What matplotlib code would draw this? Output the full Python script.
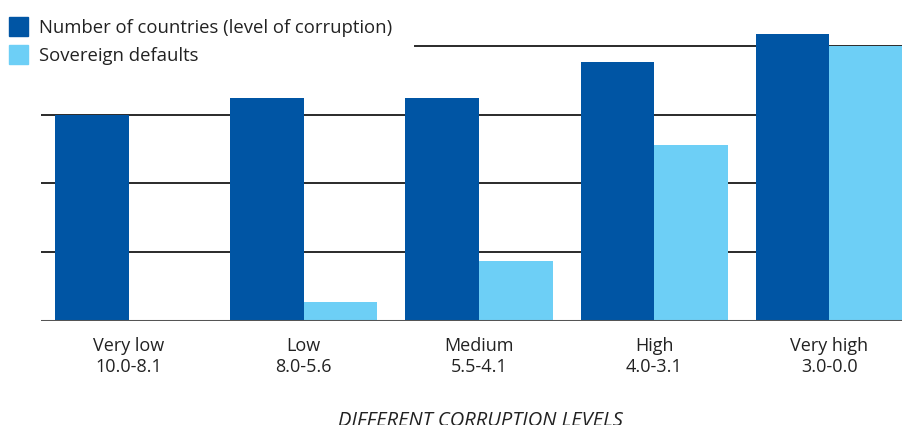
import numpy as np
import matplotlib.pyplot as plt
from matplotlib.patches import Patch

plt.rcParams['font.family'] = ['Open Sans', 'DejaVu Sans']

# data (gridlines taken as 10, 20, 30, 40)
levels = ["Very low\n10.0-8.1", "Low\n8.0-5.6", "Medium\n5.5-4.1",
          "High\n4.0-3.1", "Very high\n3.0-0.0"]
countries = [30, 32.4, 32.4, 37.6, 41.7]
defaults = [0, 2.7, 8.7, 25.5, 40]

dark = '#0055A4'
light = '#6DCFF6'

fig = plt.figure(figsize=(9.03, 4.25), dpi=100)
ax = fig.add_axes([41/903, 1-320.5/425, 1-41/903, 309/425])

x = np.arange(len(levels))
w = 0.42
ax.bar(x - w/2, countries, w, color=dark, zorder=3)
ax.bar(x + w/2, defaults, w, color=light, zorder=3)

# horizontal rules, the top one starts after the legend
for g in [10, 20, 30]:
    ax.axhline(g, color='#2a2a2a', lw=1.4, zorder=1)
ax.axhline(40, xmin=0.434, color='#2a2a2a', lw=1.4, zorder=1)
ax.axhline(0, color='#555555', lw=2.2, zorder=4)

ax.set_xlim(-0.5, 4.42)
ax.set_ylim(0, 45)
ax.set_yticks([])
ax.set_xticks(x)
ax.set_xticklabels(levels, fontsize=13, color='#222222', linespacing=1.2)
ax.tick_params(axis='x', length=0, pad=12)
for s in ax.spines.values():
    s.set_visible(False)

ax.set_xlabel("DIFFERENT CORRUPTION LEVELS", fontsize=14.5, style='italic',
              color='#222222')
ax.xaxis.set_label_coords(0.51, -0.293)

handles = [Patch(color=dark, label="Number of countries (level of corruption)"),
           Patch(color=light, label="Sovereign defaults")]
fig.legend(handles=handles, loc='upper left', bbox_to_anchor=(-0.004, 0.99),
           frameon=False, fontsize=13.3, handlelength=1.0, handleheight=1.2,
           handletextpad=0.6, labelspacing=0.45, borderaxespad=0.3,
           labelcolor='#222222')

plt.savefig("out.png", dpi=100)
